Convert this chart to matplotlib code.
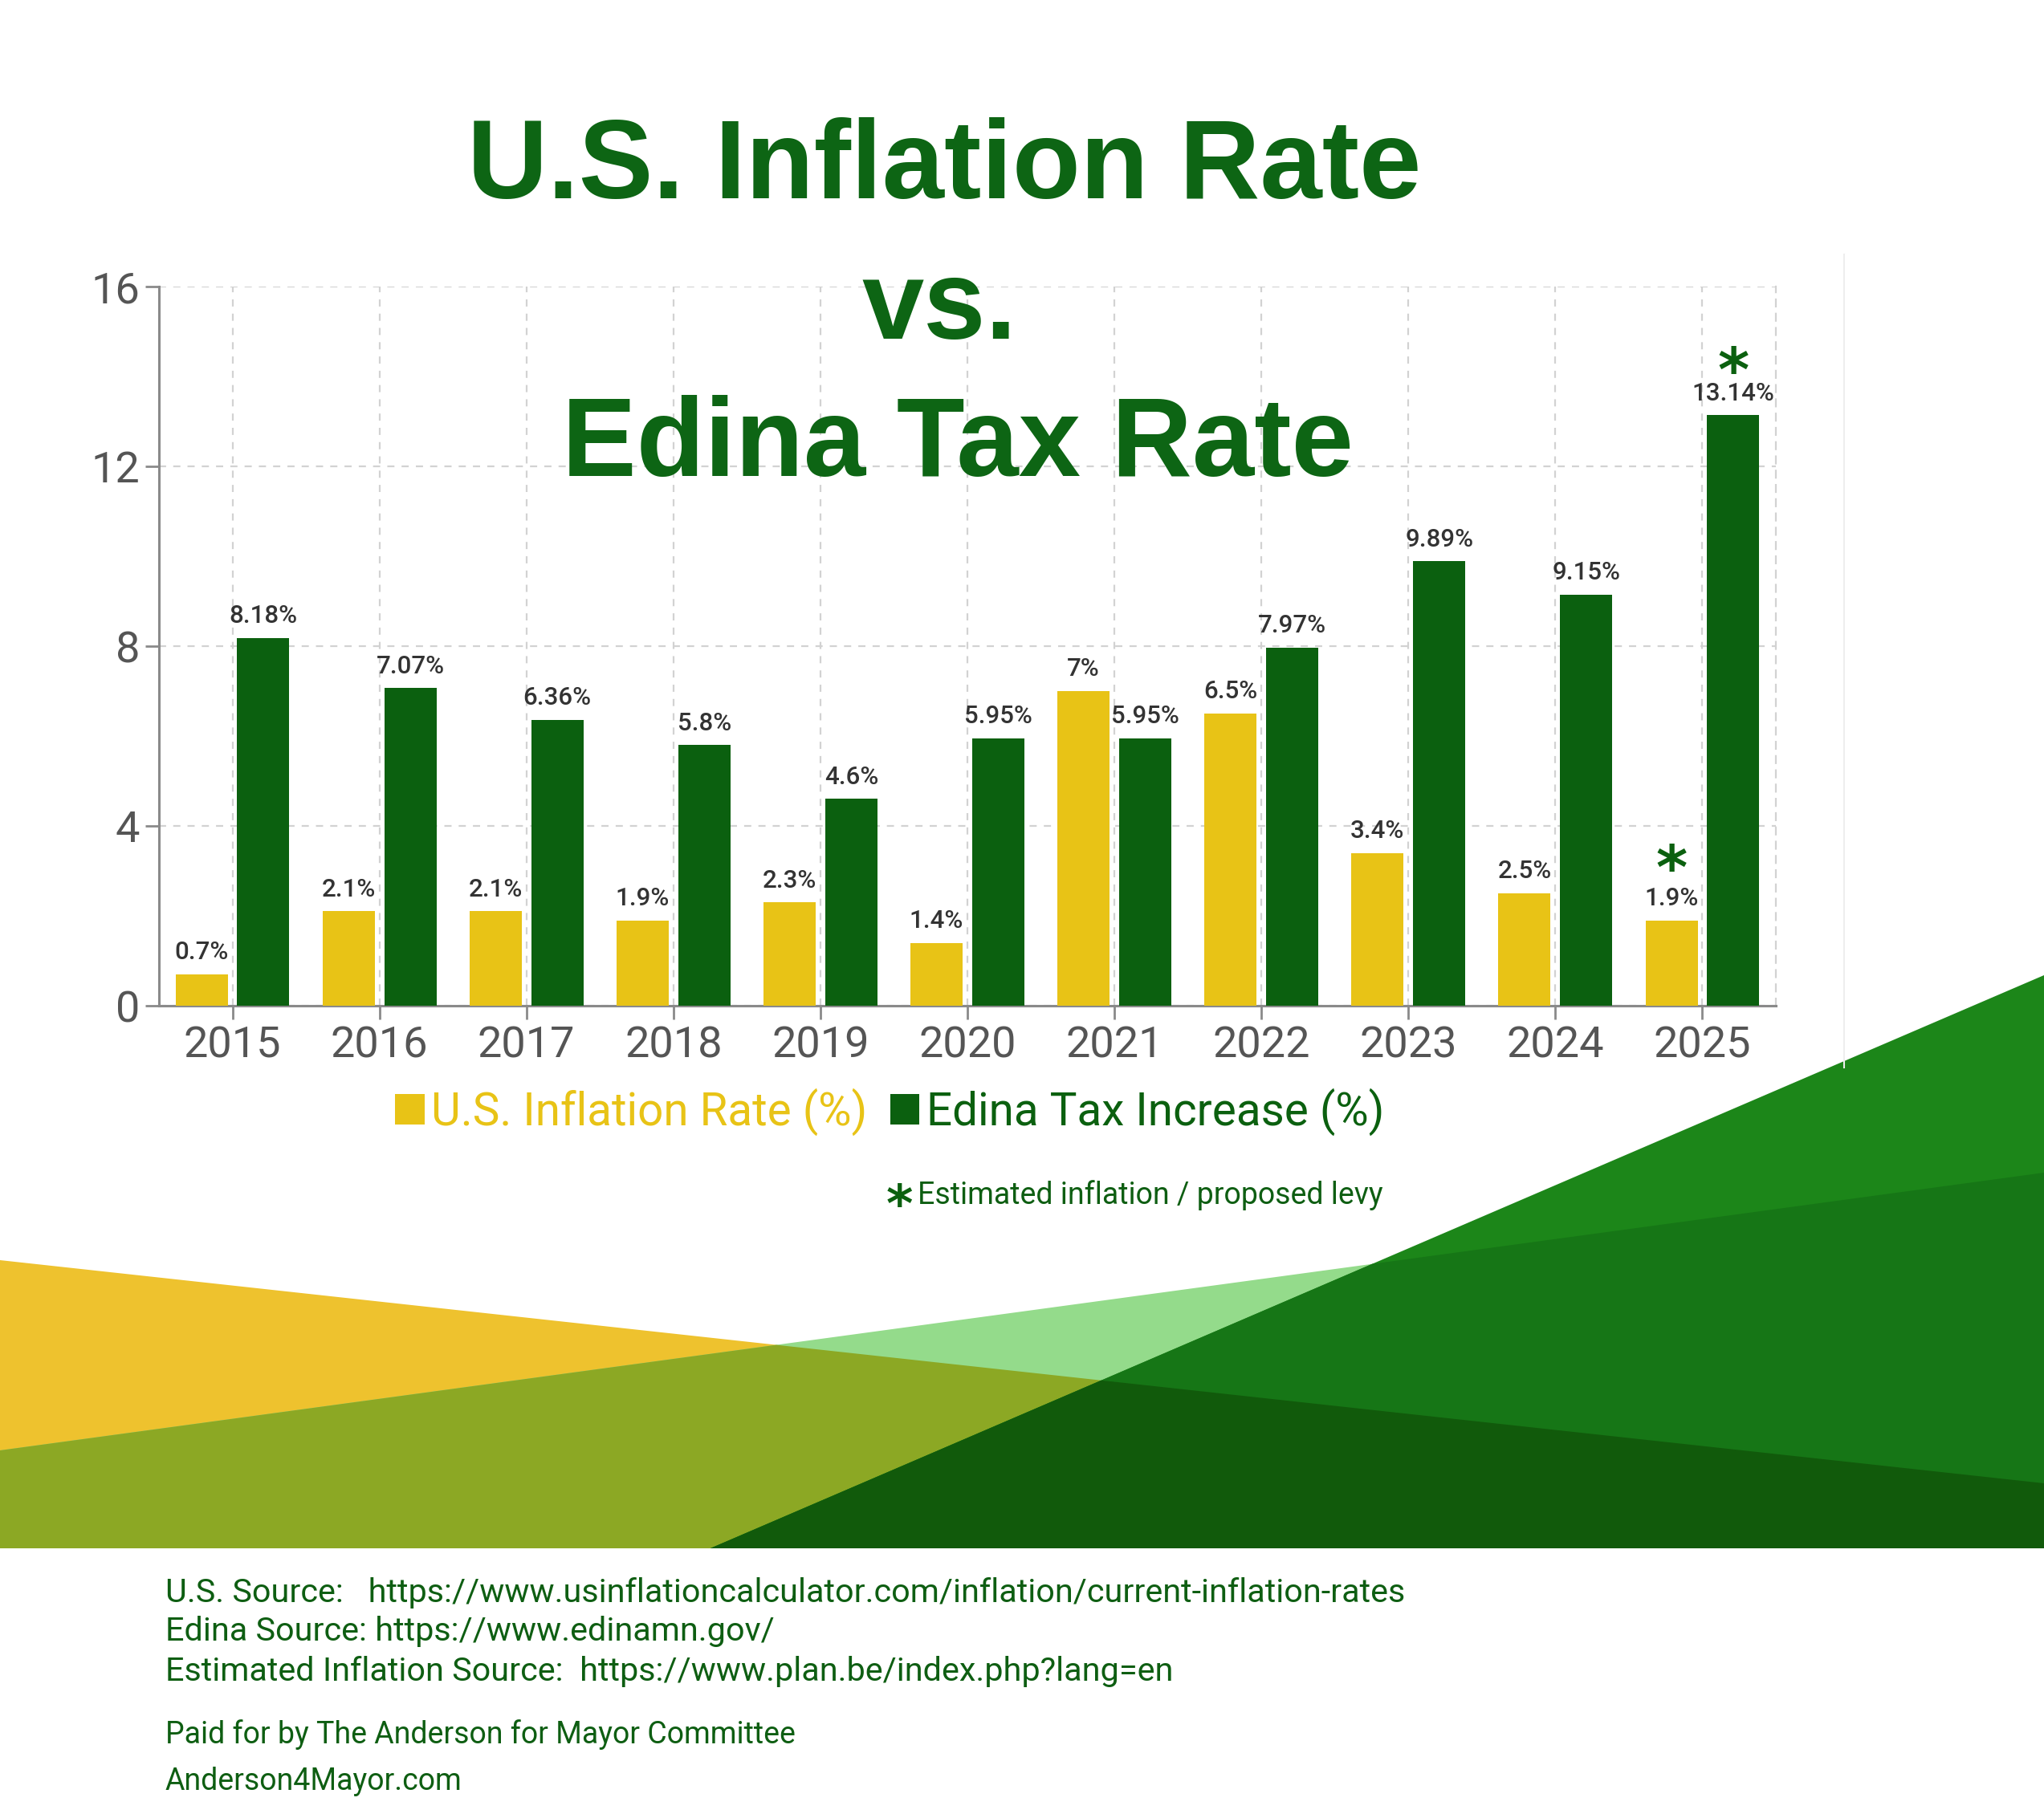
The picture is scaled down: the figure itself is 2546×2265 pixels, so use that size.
import matplotlib
matplotlib.use("Agg")
import matplotlib.pyplot as plt
import numpy as np

years = ["2015", "2016", "2017", "2018", "2019", "2020", "2021", "2022", "2023", "2024", "2025"]
us_inflation = [0.7, 2.1, 2.1, 1.9, 2.3, 1.4, 7.0, 6.5, 3.4, 2.5, 1.9]
edina_tax = [8.18, 7.07, 6.36, 5.8, 4.6, 5.95, 5.95, 7.97, 9.89, 9.15, 13.14]
y_ticks = [0, 4, 8, 12, 16]
title_lines = ["U.S. Inflation Rate", "vs.", "Edina Tax Rate"]
series_names = ["U.S. Inflation Rate (%)", "Edina Tax Increase (%)"]
footnote = "Estimated inflation / proposed levy"
sources = [
    "U.S. Source:   https://www.usinflationcalculator.com/inflation/current-inflation-rates",
    "Edina Source: https://www.edinamn.gov/",
    "Estimated Inflation Source:  https://www.plan.be/index.php?lang=en",
]
paid_for = ["Paid for by The Anderson for Mayor Committee", "Anderson4Mayor.com"]

YELLOW = "#e8c316"
GREEN = "#0b600f"
TITLE_GREEN = "#0d6514"
TEXT_GREEN = "#0e5e12"

# asterisk drawn through mathtext (low asterisk) so its box hugs the glyph
plt.rcParams["mathtext.fontset"] = "custom"
plt.rcParams["mathtext.rm"] = "DejaVu Sans"
plt.rcParams["mathtext.bf"] = "DejaVu Sans:bold"
STAR = "$\\mathbf{\u204e}$"

W, H = 2546, 2265
fig = plt.figure(figsize=(W / 100, H / 100), dpi=100)
fig.patch.set_facecolor("white")

# --- decorative background band (pixel coordinates, y down) ---
bg = fig.add_axes([0, 0, 1, 1], zorder=-1)
bg.set_xlim(0, W)
bg.set_ylim(H, 0)
bg.axis("off")

band_bottom = 1929
L1 = ((0, 1570), (W, 1848))
L2 = ((0, 1807), (W, 1461))
L3 = ((885, band_bottom), (W, 1215))


def side(p, line):
    (x0, y0), (x1, y1) = line
    return (x1 - x0) * (p[1] - y0) - (y1 - y0) * (p[0] - x0)


def clip(poly, line):
    out = []
    for i in range(len(poly)):
        a, b = poly[i], poly[(i + 1) % len(poly)]
        fa, fb = side(a, line), side(b, line)
        if fa >= 0:
            out.append(a)
        if fa * fb < 0:
            t = fa / (fa - fb)
            out.append((a[0] + t * (b[0] - a[0]), a[1] + t * (b[1] - a[1])))
    return out


band = [(0, 0), (W, 0), (W, band_bottom), (0, band_bottom)]
layers = [
    ([L1], "#eec22e"),
    ([L2], "#94db8b"),
    ([L1, L2], "#8ca824"),
    ([L3], "#1c8619"),
    ([L3, L2], "#167616"),
    ([L3, L1], "#115a0b"),
]
for lines, col in layers:
    poly = band
    for ln in lines:
        poly = clip(poly, ln)
    if len(poly) > 2:
        bg.add_patch(plt.Polygon(poly, closed=True, facecolor=col, edgecolor="none"))

bg.plot([2297, 2297], [317, 1330], color="#eeeeee", lw=1.5)

# --- title ---
title_pos = [(1176, 247), (1170, 422), (1193, 593)]
for line, (xx, yy) in zip(title_lines, title_pos):
    fig.text(xx / W, 1 - yy / H, line, ha="center", va="baseline",
             fontsize=100, fontweight="bold", family="Liberation Sans",
             color=TITLE_GREEN, zorder=5)

# --- bar chart ---
ax = fig.add_axes([198 / W, 1 - 1253 / H, (2212 - 198) / W, (1253 - 357) / H])
ax.patch.set_alpha(0)
x = np.arange(len(years))
bw = 0.355
b1 = ax.bar(x - 0.21, us_inflation, bw, color=YELLOW, label=series_names[0], zorder=3)
b2 = ax.bar(x + 0.21, edina_tax, bw, color=GREEN, label=series_names[1], zorder=3)

lab_kw = dict(fmt="{:g}%", padding=9, fontsize=22.5, color="#333333",
              family="Roboto", fontweight="medium")
ax.bar_label(b1, **lab_kw)
ax.bar_label(b2, **lab_kw)

# asterisks on the 2025 estimates
for xx, val, off in [(x[-1] - 0.21, us_inflation[-1], 32), (x[-1] + 0.21, edina_tax[-1], 25)]:
    ax.annotate(STAR, (xx, val), xytext=(0, off), textcoords="offset points",
                ha="center", va="bottom", fontsize=54, color=GREEN)

ax.set_xlim(-0.5, len(years) - 0.5)
ax.set_ylim(0, 16)
ax.set_xticks(x)
ax.set_xticklabels(years)
ax.set_yticks(y_ticks)
ax.tick_params(axis="both", colors="#8a8a8a", labelcolor="#555555",
               labelsize=39, length=12, width=2)
ax.tick_params(axis="x", pad=6)
ax.tick_params(axis="y", pad=5)
for lbl in ax.get_xticklabels() + ax.get_yticklabels():
    lbl.set_family("Roboto")

ax.grid(True, color="#d2d2d2", linestyle=(0, (4, 4)), linewidth=1.6)
ax.set_axisbelow(True)
for s in ["left", "bottom"]:
    ax.spines[s].set_color("#8a8a8a")
    ax.spines[s].set_linewidth(2.2)
ax.spines["top"].set_visible(False)
ax.spines["right"].set_color("#d2d2d2")
ax.spines["right"].set_linestyle((0, (4, 4)))
ax.spines["right"].set_linewidth(1.6)

leg = ax.legend(loc="center", bbox_to_anchor=(1108 / W, 1 - 1385 / H),
                bbox_transform=fig.transFigure, ncol=2, frameon=False,
                handlelength=0.65, handleheight=0.65, handletextpad=0.15,
                columnspacing=0.5, prop={"family": "Roboto", "size": 40.8})
for txt, col in zip(leg.get_texts(), [YELLOW, GREEN]):
    txt.set_color(col)

# --- footnote ---
fig.text(1120 / W, 1 - 1486 / H, STAR, ha="center", va="center", fontsize=46,
         color=GREEN)
fig.text(1143 / W, 1 - 1489 / H, footnote, ha="left", va="center",
         fontsize=27, color=TEXT_GREEN, family="Roboto")

# --- sources ---
for line, yy in zip(sources, [1984, 2033, 2083]):
    fig.text(206 / W, 1 - yy / H, line, ha="left", va="center", fontsize=29.8,
             color=TEXT_GREEN, family="Roboto")
for line, yy in zip(paid_for, [2161, 2220]):
    fig.text(206 / W, 1 - yy / H, line, ha="left", va="center", fontsize=27,
             color=TEXT_GREEN, family="Roboto")

fig.savefig("out.png", dpi=100, facecolor="white")
